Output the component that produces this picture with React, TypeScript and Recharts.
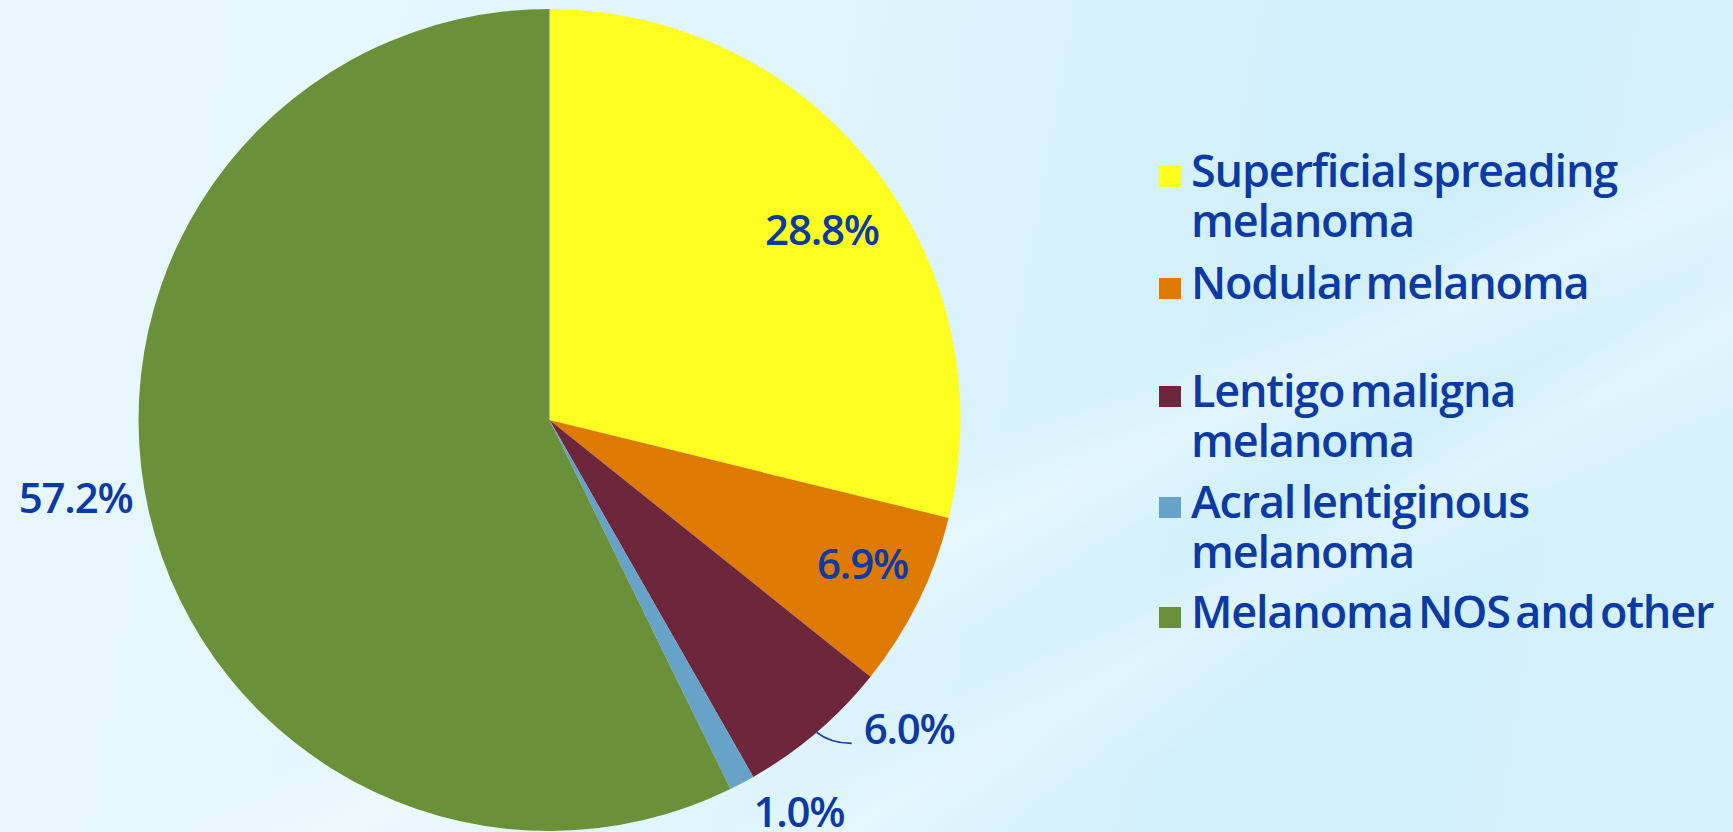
import React from 'react';
import { PieChart, Pie, Cell, Legend } from 'recharts';

const categories = [
    'Superficial spreading melanoma',
    'Nodular melanoma',
    'Lentigo maligna melanoma',
    'Acral lentiginous melanoma',
    'Melanoma NOS and other',
];
const shares = [28.8, 6.9, 6.0, 1.0, 57.2];
const legendLines = [
    ['Superficial spreading', 'melanoma'],
    ['Nodular melanoma'],
    ['Lentigo maligna', 'melanoma'],
    ['Acral lentiginous', 'melanoma'],
    ['Melanoma NOS and other'],
];
const sliceColors = ['#FFFF21', '#DF7A00', '#6E263D', '#67A2C8', '#6A913A'];

const TEXT = '#0B3AA3';
const FONT = '"Open Sans", "Noto Sans", sans-serif';
const W = 1733;
const H = 832;
const RADIAN = Math.PI / 180;

const data = categories.map((name, i) => ({ name, value: shares[i] }));

// label placement: radius along mid angle, then a small nudge to the baseline point
const labelLayout = [
    { r: 340, dx: 5, dy: 35 },
    { r: 340, dx: 8, dy: 9 },
    { r: 411, dx: 0, dy: 0 },
    { r: 460, dx: 34, dy: 1 },
    { r: 470, dx: -16, dy: -13 },
];

const renderLabel = (props: any) => {
    const { cx, cy, midAngle, index, value } = props;
    const lay = labelLayout[index];
    const cos = Math.cos(-midAngle * RADIAN);
    const sin = Math.sin(-midAngle * RADIAN);
    const px = cx + lay.r * cos;
    const py = cy + lay.r * sin;
    const text = `${value.toFixed(1)}%`;
    const style = { fontFamily: FONT, fontSize: 42, fontWeight: 600, letterSpacing: -1.2, fill: TEXT };
    if (index === 2) {
        const ex = px + 35;
        const ey = py + 11;
        return (
            <g>
                <path d={`M${px},${py} Q${px + 14},${ey} ${ex},${ey}`} stroke={TEXT} strokeWidth={1.8} fill="none" />
                <text x={ex + 12} y={ey + 1} textAnchor="start" style={style}>{text}</text>
            </g>
        );
    }
    return (
        <text x={px + lay.dx} y={py + lay.dy} textAnchor="middle" style={style}>{text}</text>
    );
};

const legendBaselines = [187, 299, 407, 518, 628];

const renderLegend = (props: any) => {
    const { payload } = props;
    return (
        <div style={{ position: 'relative', width: 570, height: H }}>
            {(payload || []).map((entry: any, i: number) => {
                const lines = legendLines[i];
                const base = legendBaselines[i];
                return (
                    <div key={entry.value} style={{ position: 'absolute', left: 0, top: 0 }}>
                        <div style={{ position: 'absolute', left: 0, top: base - 21, width: 22, height: 21, background: sliceColors[i] }} />
                        <div
                            style={{
                                position: 'absolute',
                                left: 32,
                                top: base - 42.5,
                                lineHeight: '50px',
                                whiteSpace: 'nowrap',
                                fontFamily: FONT,
                                fontSize: 45,
                                fontWeight: 600,
                                letterSpacing: -1.2,
                                wordSpacing: -5,
                                color: TEXT,
                            }}
                        >
                            {lines.map((ln, j) => (
                                <div key={j}>{ln}</div>
                            ))}
                        </div>
                    </div>
                );
            })}
        </div>
    );
};

export default function App() {
    return (
        <div
            style={{
                position: 'fixed',
                left: 0,
                top: 0,
                width: W,
                height: H,
                overflow: 'hidden',
                background:
                    'linear-gradient(155deg, rgba(255,255,255,0) 55%, rgba(255,255,255,0.35) 60%, rgba(255,255,255,0) 66%),' +
                    'linear-gradient(150deg, rgba(255,255,255,0) 68%, rgba(255,255,255,0.3) 72%, rgba(255,255,255,0) 78%),' +
                    'linear-gradient(100deg, #EAF8FE 0%, #E0F5FD 45%, #CFEFFB 75%, #D8F2FC 100%)',
            }}
        >
            <PieChart width={W} height={H} margin={{ top: 0, right: 0, bottom: 0, left: 0 }}>
                <Pie
                    data={data}
                    dataKey="value"
                    nameKey="name"
                    cx={549.5}
                    cy={420}
                    outerRadius={411}
                    startAngle={90}
                    endAngle={-270}
                    stroke="none"
                    label={renderLabel}
                    labelLine={false}
                    isAnimationActive={false}
                >
                    {data.map((d, i) => (
                        <Cell key={d.name} fill={sliceColors[i]} />
                    ))}
                </Pie>
                <Legend
                    content={renderLegend}
                    wrapperStyle={{ position: 'absolute', left: 1159, top: 0, width: 570, height: H }}
                />
            </PieChart>
        </div>
    );
}
